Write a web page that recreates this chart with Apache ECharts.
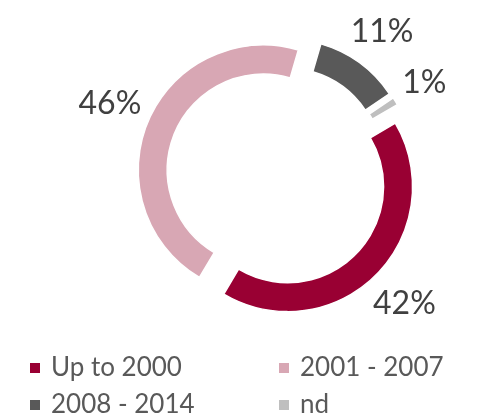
<!DOCTYPE html>
<html>
<head>
<meta charset="utf-8">
<script src="https://cdn.jsdelivr.net/npm/echarts@6/dist/echarts.min.js"></script>
<style>
  html, body { margin: 0; padding: 0; background: #fff; }
  #chart { width: 488px; height: 416px; }
</style>
</head>
<body>
<div id="chart"></div>
<script>
// share of items by period, in %
var categories = ["Up to 2000", "2001 - 2007", "2008 - 2014", "nd"];
var shares = [42, 46, 11, 1];
var colors = ["#990033", "#d8a7b4", "#595959", "#bfbfbf"];

var pieCenter = [277, 176];
var pieRadius = [96, 125];
var explode = 15;      // every slice is pulled out of the middle
var startAngle = 30.5;
var labelGap = 7;

var total = shares.reduce(function (a, b) { return a + b; }, 0);

// put the label just outside the slice, along its middle line
function placeLabel(params) {
  var pts = params.labelLinePoints;
  if (!pts) return {};
  var dx = pts[1][0] - pts[0][0];
  var dy = pts[1][1] - pts[0][1];
  var len = Math.sqrt(dx * dx + dy * dy) || 1;
  dx /= len;
  dy /= len;
  var rect = params.labelRect;
  var half = Math.abs(dx) * rect.width / 2 + Math.abs(dy) * rect.height / 2;
  return {
    x: pts[0][0] + dx * (labelGap + half),
    y: pts[0][1] + dy * (labelGap + half),
    align: "center",
    verticalAlign: "middle"
  };
}

// one pie per slice, each shifted along its own middle angle
var before = 0;
var series = shares.map(function (v, i) {
  var mid = (startAngle - (before + v / 2) / total * 360) * Math.PI / 180;
  before += v;
  return {
    type: "pie",
    name: categories[i],
    center: [pieCenter[0] + Math.cos(mid) * explode, pieCenter[1] - Math.sin(mid) * explode],
    radius: pieRadius,
    startAngle: startAngle,
    avoidLabelOverlap: false,
    silent: true,
    animation: false,
    emphasis: { disabled: true },
    label: {
      position: "outside",
      formatter: "{c}%",
      fontFamily: "Lato",
      fontSize: 32,
      color: "#404040"
    },
    labelLine: { length: 10, length2: 0, lineStyle: { opacity: 0 } },
    labelLayout: placeLabel,
    data: categories.map(function (c, j) {
      var mine = j === i;
      return {
        name: c,
        value: shares[j],
        itemStyle: mine
          ? { color: colors[j], borderColor: "#fff", borderWidth: 1.5 }
          : { color: "rgba(0,0,0,0)", borderWidth: 0 },
        label: { show: mine },
        labelLine: { show: mine }
      };
    })
  };
});

function legendData(idx) {
  return idx.map(function (k) {
    return { name: categories[k], itemStyle: { color: colors[k] } };
  });
}

var legendStyle = {
  orient: "vertical",
  top: 355,
  height: 80,
  padding: 0,
  itemWidth: 10,
  itemHeight: 10,
  itemGap: 11,
  icon: "rect",
  selectedMode: false,
  textStyle: {
    fontFamily: "Lato",
    fontSize: 26,
    lineHeight: 24,
    color: "#595959",
    padding: [0, 0, 0, 6]
  }
};

var chart = echarts.init(document.getElementById("chart"));
chart.setOption({
  backgroundColor: "#fff",
  legend: [
    Object.assign({ left: 30, data: legendData([0, 2]) }, legendStyle),
    Object.assign({ left: 279, data: legendData([1, 3]) }, legendStyle)
  ],
  series: series
});
</script>
</body>
</html>
